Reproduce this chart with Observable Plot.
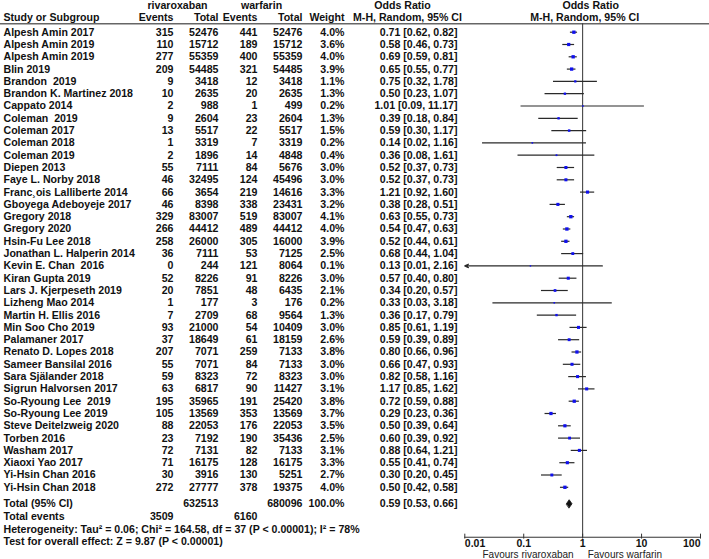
<!DOCTYPE html>
<html>
<head>
<meta charset="utf-8">
<script src="https://cdn.jsdelivr.net/npm/d3@7"></script>
<script src="https://cdn.jsdelivr.net/npm/@observablehq/plot@0.6"></script>
<style>
  html, body { margin: 0; padding: 0; background: #fff; }
  #chart { width: 709px; height: 559px; }
</style>
</head>
<body>
<div id="chart"></div>
<script>
// ---- Data ----
const studies = ["Alpesh Amin 2017","Alpesh Amin 2019","Alpesh Amin 2019","Blin 2019","Brandon\u00a0 2019","Brandon K. Martinez 2018","Cappato 2014","Coleman\u00a0 2019","Coleman 2017","Coleman 2018","Coleman 2019","Diepen 2013","Faye L. Norby 2018","Franc\u00b8ois Lalliberte 2014","Gboyega Adeboyeje 2017","Gregory 2018","Gregory 2020","Hsin-Fu Lee 2018","Jonathan L. Halperin 2014","Kevin E. Chan\u00a0 2016","Kiran Gupta 2019","Lars J. Kjerpeseth 2019","Lizheng Mao 2014","Martin H. Ellis 2016","Min Soo Cho 2019","Palamaner 2017","Renato D. Lopes 2018","Sameer Bansilal 2016","Sara Själander 2018","Sigrun Halvorsen 2017","So-Ryoung Lee\u00a0 2019","So-Ryoung Lee 2019","Steve Deitelzweig 2020","Torben 2016","Washam 2017","Xiaoxi Yao 2017","Yi-Hsin Chan 2016","Yi-Hsin Chan 2018"];
const rivEvents = [315,110,277,209,9,10,2,9,13,1,2,55,46,66,46,329,266,258,36,0,52,20,1,7,93,37,207,55,59,63,195,105,88,23,72,71,30,272];
const rivTotal = [52476,15712,55359,54485,3418,2635,988,2604,5517,3319,1896,7111,32495,3654,8398,83007,44412,26000,7111,244,8226,7851,177,2709,21000,18649,7071,7071,8323,6817,35965,13569,22053,7192,7131,16175,3916,27777];
const warEvents = [441,189,400,321,12,20,1,23,22,7,14,84,124,219,338,519,489,305,53,121,91,48,3,68,54,61,259,84,72,90,191,353,176,190,82,128,130,378];
const warTotal = [52476,15712,55359,54485,3418,2635,499,2604,5517,3319,4848,5676,45496,14616,23431,83007,44412,16000,7125,8064,8226,6435,176,9564,10409,18159,7133,7133,8323,11427,25420,13569,22053,35436,7133,16175,5251,19375];
const weights = [4.0,3.6,4.0,3.9,1.1,1.3,0.2,1.3,1.5,0.2,0.4,3.0,3.0,3.3,3.2,4.1,4.0,3.9,2.5,0.1,3.0,2.1,0.2,1.3,3.0,2.6,3.8,3.0,3.0,3.1,3.8,3.7,3.5,2.5,3.1,3.3,2.7,4.0];
const oddsRatio = [0.71,0.58,0.69,0.65,0.75,0.50,1.01,0.39,0.59,0.14,0.36,0.52,0.52,1.21,0.38,0.63,0.54,0.52,0.68,0.13,0.57,0.34,0.33,0.36,0.85,0.59,0.80,0.66,0.82,1.17,0.72,0.29,0.50,0.60,0.88,0.55,0.30,0.50];
const ciLow = [0.62,0.46,0.59,0.55,0.32,0.23,0.09,0.18,0.30,0.02,0.08,0.37,0.37,0.92,0.28,0.55,0.47,0.44,0.44,0.01,0.40,0.20,0.03,0.17,0.61,0.39,0.66,0.47,0.58,0.85,0.59,0.23,0.39,0.39,0.64,0.41,0.20,0.42];
const ciHigh = [0.82,0.73,0.81,0.77,1.78,1.07,11.17,0.84,1.17,1.16,1.61,0.73,0.73,1.60,0.51,0.73,0.63,0.61,1.04,2.16,0.80,0.57,3.18,0.79,1.19,0.89,0.96,0.93,1.16,1.62,0.88,0.36,0.64,0.92,1.21,0.74,0.45,0.58];

const totalRiv = 632513, totalWar = 680096, totalWeight = "100.0%";
const totalEventsRiv = 3509, totalEventsWar = 6160;
const totalOR = 0.59, totalLow = 0.53, totalHigh = 0.66;
const heterogeneity = "Heterogeneity: Tau\u00b2 = 0.06; Chi\u00b2 = 164.58, df = 37 (P < 0.00001); I\u00b2 = 78%";
const overallEffect = "Test for overall effect: Z = 9.87 (P < 0.00001)";
const tickValues = [0.01, 0.1, 1, 10, 100];
const tickLabels = ["0.01", "0.1", "1", "10", "100"];
const favourLeft = "Favours rivaroxaban", favourRight = "Favours warfarin";

// ---- Layout (row index units) ----
const R_GROUP = -2.17, R_HEAD = -1.22, R_LINE = -0.68;
const R_TOTAL = studies.length + 0.34;
const R_EVENTS = R_TOTAL + 1.06;
const R_HET = R_TOTAL + 2.06, R_TEST = R_TOTAL + 3.06;
const R_AXIS = 41.06, R_TICKLAB = 41.62, R_FAV = 42.45;

const rows = studies.map((s, i) => ({
  i, study: s,
  re: String(rivEvents[i]), rt: String(rivTotal[i]), we: String(warEvents[i]), wt: String(warTotal[i]),
  w: weights[i], or: oddsRatio[i], lo: ciLow[i], hi: ciHigh[i],
  wLabel: weights[i].toFixed(1) + "%",
  ciLabel: `${oddsRatio[i].toFixed(2)} [${ciLow[i].toFixed(2)}, ${ciHigh[i].toFixed(2)}]`
}));
const clipped = rows.filter(d => d.lo <= 0.01);
const unclipped = rows.filter(d => d.lo > 0.01);

const diamond = [
  {x: totalLow, y: R_TOTAL}, {x: totalOR, y: R_TOTAL - 0.33},
  {x: totalHigh, y: R_TOTAL}, {x: totalOR, y: R_TOTAL + 0.33}
];
const ticks = tickValues.map((v, k) => ({v, label: tickLabels[k], k}));

const FONT = "'Liberation Sans', Arial, sans-serif";
const bold = {fontWeight: "bold", fill: "#111", frameAnchor: "left"};
const col = (data, opts) => Plot.text(data, {...bold, ...opts});
const str = v => [String(v)];

const chart = Plot.plot({
  width: 709, height: 559, margin: 0,
  style: {fontFamily: FONT, fontSize: "10.6px", background: "#fff"},
  x: {type: "log", domain: [0.01, 100], range: [464.3, 700], axis: null},
  y: {type: "linear", domain: [-2.577, 42.87], range: [0, 559], axis: null},
  r: {type: "sqrt", domain: [0, 4.1], range: [0.6, 1.9]},
  marks: [
    // header
    Plot.text(["rivaroxaban"], {y: R_GROUP, text: d => d, frameAnchor: "left", dx: 177, textAnchor: "middle", fill: "#111", fontWeight: 600}),
    Plot.text(["warfarin"], {y: R_GROUP, text: d => d, frameAnchor: "left", dx: 261, textAnchor: "middle", fill: "#111", fontWeight: 600}),
    col(["Odds Ratio"], {y: R_GROUP, text: d => d, dx: 402, textAnchor: "middle"}),
    Plot.text(["Odds Ratio"], {x: 1, y: R_GROUP, text: d => d, dx: 8, fontWeight: "bold", fill: "#111"}),
    col(["Study or Subgroup"], {y: R_HEAD, text: d => d, dx: 3, textAnchor: "start"}),
    col(["Events"], {y: R_HEAD, text: d => d, dx: 173, textAnchor: "end"}),
    col(["Total"], {y: R_HEAD, text: d => d, dx: 218, textAnchor: "end"}),
    col(["Events"], {y: R_HEAD, text: d => d, dx: 257, textAnchor: "end"}),
    col(["Total"], {y: R_HEAD, text: d => d, dx: 302, textAnchor: "end"}),
    col(["Weight"], {y: R_HEAD, text: d => d, dx: 344, textAnchor: "end"}),
    col(["M-H, Random, 95% CI"], {y: R_HEAD, text: d => d, dx: 407, textAnchor: "middle"}),
    Plot.text(["M-H, Random, 95% CI"], {x: 1, y: R_HEAD, text: d => d, dx: 2, fontWeight: "bold", fill: "#111"}),
    Plot.ruleY([R_LINE], {stroke: "#666", strokeWidth: 1.5}),

    // table body
    col(rows, {y: "i", text: "study", dx: 3, textAnchor: "start"}),
    col(rows, {y: "i", text: "re", dx: 173, textAnchor: "end"}),
    col(rows, {y: "i", text: "rt", dx: 218, textAnchor: "end"}),
    col(rows, {y: "i", text: "we", dx: 257, textAnchor: "end"}),
    col(rows, {y: "i", text: "wt", dx: 302, textAnchor: "end"}),
    col(rows, {y: "i", text: "wLabel", dx: 344, textAnchor: "end"}),
    col(rows, {y: "i", text: "ciLabel", dx: 457, textAnchor: "end"}),

    // totals
    col(["Total (95% CI)"], {y: R_TOTAL, text: d => d, dx: 3, textAnchor: "start"}),
    col(str(totalRiv), {y: R_TOTAL, text: d => d, dx: 218, textAnchor: "end"}),
    col(str(totalWar), {y: R_TOTAL, text: d => d, dx: 302, textAnchor: "end"}),
    col([totalWeight], {y: R_TOTAL, text: d => d, dx: 344, textAnchor: "end"}),
    col([`${totalOR.toFixed(2)} [${totalLow.toFixed(2)}, ${totalHigh.toFixed(2)}]`], {y: R_TOTAL, text: d => d, dx: 457, textAnchor: "end"}),
    col(["Total events"], {y: R_EVENTS, text: d => d, dx: 3, textAnchor: "start"}),
    col(str(totalEventsRiv), {y: R_EVENTS, text: d => d, dx: 173, textAnchor: "end"}),
    col(str(totalEventsWar), {y: R_EVENTS, text: d => d, dx: 257, textAnchor: "end"}),
    col([heterogeneity], {y: R_HET, text: d => d, dx: 3, textAnchor: "start"}),
    col([overallEffect], {y: R_TEST, text: d => d, dx: 3, textAnchor: "start"}),

    // forest
    Plot.ruleX([1], {y1: R_LINE, y2: R_AXIS, stroke: "#333", strokeWidth: 1}),
    Plot.ruleY(unclipped, {x1: "lo", x2: "hi", y: "i", stroke: "#2a2a2a", strokeWidth: 1.2}),
    Plot.arrow(clipped, {x1: "hi", x2: d => Math.max(d.lo, 0.01), y1: "i", y2: "i", stroke: "#2a2a2a", strokeWidth: 1.2, headLength: 5, headAngle: 50}),
    Plot.dot(rows, {x: "or", y: "i", r: "w", symbol: "square", fill: "#1010ee", stroke: null}),
    Plot.line(diamond, {x: "x", y: "y", fill: "#111", stroke: "#111", strokeWidth: 0.8, curve: "linear-closed"}),

    // axis
    Plot.ruleY([R_AXIS], {x1: 0.01, x2: 100, stroke: "#333"}),
    Plot.ruleX(ticks, {x: "v", y1: R_AXIS - 0.25, y2: R_AXIS + 0.15, stroke: "#333"}),
    Plot.text(ticks.filter(d => d.k === 0), {x: "v", y: R_TICKLAB, text: "label", textAnchor: "start", fontWeight: "bold", fill: "#111", fontSize: 10.5}),
    Plot.text(ticks.filter(d => d.k > 0 && d.k < ticks.length - 1), {x: "v", y: R_TICKLAB, text: "label", textAnchor: "middle", fontWeight: "bold", fill: "#111", fontSize: 10.5}),
    Plot.text(ticks.filter(d => d.k === ticks.length - 1), {x: "v", y: R_TICKLAB, text: "label", textAnchor: "end", fontWeight: "bold", fill: "#111", fontSize: 10.5}),
    Plot.text([favourLeft], {x: 1, y: R_FAV, text: d => d, textAnchor: "end", dx: -9, fill: "#222", fontSize: 10}),
    Plot.text([favourRight], {x: 1, y: R_FAV, text: d => d, textAnchor: "start", dx: 5, fill: "#222", fontSize: 10})
  ]
});
document.getElementById("chart").appendChild(chart);
</script>
</body>
</html>
